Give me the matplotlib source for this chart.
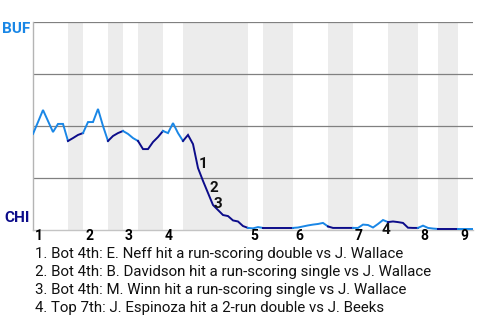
import matplotlib
matplotlib.use("Agg")
import matplotlib.pyplot as plt
import numpy as np

# ------------------------------------------------------------
# Data: BUF win probability (%) after each plate appearance
# ------------------------------------------------------------
half_inning_pas = [7, 3, 5, 3, 3, 5, 4, 13, 3, 6, 7, 5, 7, 6, 4, 4, 3]
inning_labels = ["1", "2", "3", "4", "5", "6", "7", "8", "9"]

buf_wp = [
    46.2, 51.9, 57.7, 52.4, 47.1, 51.0, 51.0, 42.8,   # top 1st
    44.2, 45.7, 46.6,                                 # bot 1st
    51.9, 51.9, 58.2, 50.0, 42.8,                     # top 2nd
    45.2, 46.6, 47.6,                                 # bot 2nd
    46.2, 44.2, 42.8,                                 # top 3rd
    38.9, 38.9, 42.3, 44.7, 47.6,                     # bot 3rd
    46.6, 51.4, 46.6, 42.8,                           # top 4th
    45.7, 41.3, 29.8, 23.6, 17.8, 12.0, 9.6, 7.2,     # bot 4th
    6.7, 4.6, 4.1, 1.9, 1.0,
    0.8, 1.4, 1.0,                                    # top 5th
    1.0, 1.0, 1.0, 1.0, 1.0, 1.0,                     # bot 5th
    1.2, 1.7, 2.2, 2.6, 2.9, 3.4, 1.7,                # top 6th
    1.0, 1.0, 1.0, 1.0, 1.0,                          # bot 6th
    1.0, 2.6, 2.4, 1.2, 2.9, 4.8, 3.8,                # top 7th
    4.1, 3.8, 3.4, 1.1, 1.0, 1.0,                     # bot 7th
    2.1, 1.0, 0.7, 0.5,                               # top 8th
    0.5, 0.5, 0.5, 0.5,                               # bot 8th
    0.5, 0.5, 0.5,                                    # top 9th
]

event_idx = [33, 35, 36, 70]
event_labels = ["1", "2", "3", "4"]
event_notes = [
    "1. Bot 4th: E. Neff hit a run-scoring double vs J. Wallace",
    "2. Bot 4th: B. Davidson hit a run-scoring single vs J. Wallace",
    "3. Bot 4th: M. Winn hit a run-scoring single vs J. Wallace",
    "4. Top 7th: J. Espinoza hit a 2-run double vs J. Beeks",
]

BUF_COLOR = "#1a87e6"
CHI_COLOR = "#0c0c8a"
SHADE = "#ececec"

plt.rcParams["font.family"] = ["Roboto", "DejaVu Sans"]

W, H = 480, 320
fig = plt.figure(figsize=(W / 100, H / 100), dpi=100)
ax = fig.add_axes([33 / W, 1 - 230 / H, 440 / W, 208 / H])

n_pa = sum(half_inning_pas)
x = np.arange(len(buf_wp))
y = np.array(buf_wp)

# half-inning shading and coloured line segments
start = 0
for k, n in enumerate(half_inning_pas):
    end = start + n
    top = (k % 2 == 0)
    if not top:
        ax.axvspan(start, end, color=SHADE, lw=0, zorder=0)
    ax.plot(x[start:end + 1], y[start:end + 1],
            color=BUF_COLOR if top else CHI_COLOR, lw=1.4, zorder=3,
            solid_joinstyle="miter")
    if top:
        ax.text(start + 0.4, -0.03, inning_labels[k // 2],
                transform=ax.get_xaxis_transform(), ha="left", va="center",
                fontsize=10, fontweight="bold", color="black")
    start = end

for g in [25, 50, 75, 100]:
    ax.axhline(g, color="#808080", lw=0.9, zorder=1)

ax.set_xlim(0, n_pa)
ax.set_ylim(0, 100)
ax.set_xticks([])
ax.set_yticks([])
for s in ["top", "right"]:
    ax.spines[s].set_visible(False)
ax.spines["left"].set_color("#b4b4b4")
ax.spines["bottom"].set_color("#c4c4c4")
ax.spines["left"].set_linewidth(1.0)
ax.spines["bottom"].set_linewidth(1.0)

# team labels
ax.text(-0.007, 100, "BUF", transform=ax.get_yaxis_transform(), ha="right",
        va="top", fontsize=11, fontweight="bold", color=BUF_COLOR)
ax.text(-0.007, 2.5, "CHI", transform=ax.get_yaxis_transform(), ha="right",
        va="bottom", fontsize=11, fontweight="bold", color=CHI_COLOR)

# event markers
offsets = [(1, 4), (1, 5), (1, 1), (3, -10)]
for idx, lab, off in zip(event_idx, event_labels, offsets):
    ax.annotate(lab, (x[idx], y[idx]), xytext=off, textcoords="offset pixels",
                ha="center" if off[1] < 0 else "left", va="center",
                fontsize=11, fontweight="bold", color="#111111", zorder=5,
                annotation_clip=False)

# notes below the chart
for i, note in enumerate(event_notes):
    fig.text(35 / W, 1 - (254 + 18 * i) / H, note, ha="left", va="center",
             fontsize=10.8, color="#111111")

fig.savefig("out.png", dpi=100)
